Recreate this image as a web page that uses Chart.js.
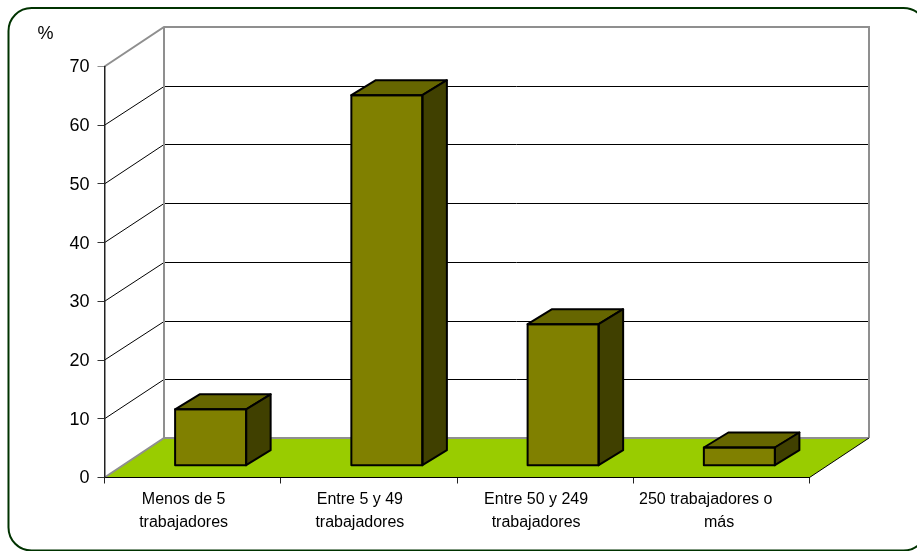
<!DOCTYPE html>
<html>
<head>
<meta charset="utf-8">
<style>html,body{margin:0;padding:0;background:#fff;overflow:hidden}canvas{display:block}</style>
<script src="https://cdn.jsdelivr.net/npm/chart.js@4"></script>
</head>
<body>
<canvas id="c" width="917" height="551" style="width:917px;height:551px"></canvas>
<script>
const categories = [
  ["Menos de 5", "trabajadores"],
  ["Entre 5 y 49", "trabajadores"],
  ["Entre 50 y 249", "trabajadores"],
  ["250 trabajadores o", "más"]
];
const values = [9.6, 63.1, 24.1, 3.1];
const unitLabel = "%";
const yMax = 70, yStep = 10;

const WALL_DX = 59.5, WALL_DY = 39.5;   // depth of the 3D box
const BAR_DX = 18, BAR_DY = 11.8;       // bar offset from the front plane
const BAR_DEPTH_DX = 24.5, BAR_DEPTH_DY = 15;
const FONT = '"Liberation Sans", Arial, sans-serif';

function line(ctx, pts, color, w) {
  ctx.beginPath();
  pts.forEach((p, i) => i ? ctx.lineTo(p[0], p[1]) : ctx.moveTo(p[0], p[1]));
  ctx.strokeStyle = color; ctx.lineWidth = w; ctx.stroke();
}
function poly(ctx, pts, fill) {
  ctx.beginPath();
  pts.forEach((p, i) => i ? ctx.lineTo(p[0], p[1]) : ctx.moveTo(p[0], p[1]));
  ctx.closePath();
  if (fill) { ctx.fillStyle = fill; ctx.fill(); }
  ctx.strokeStyle = '#000'; ctx.lineWidth = 2; ctx.lineJoin = 'round'; ctx.stroke();
}

const box3d = {
  id: 'box3d',
  beforeDraw(chart) {
    const { ctx, scales: { x, y } } = chart;
    const L = x.left, R = x.right;
    ctx.save();
    ctx.fillStyle = '#fff';
    ctx.fillRect(0, 0, chart.width, chart.height);

    // rounded frame
    ctx.beginPath();
    ctx.roundRect(8.5, 8, 918, 542.5, 23);
    ctx.strokeStyle = '#003300'; ctx.lineWidth = 2; ctx.stroke();

    // floor
    const y0 = y.getPixelForValue(0);
    ctx.beginPath();
    ctx.moveTo(L, y0); ctx.lineTo(L + WALL_DX, y0 - WALL_DY);
    ctx.lineTo(R + WALL_DX, y0 - WALL_DY); ctx.lineTo(R, y0); ctx.closePath();
    ctx.fillStyle = '#99cc00'; ctx.fill();

    // grid lines on side and back walls
    for (let v = yStep; v < yMax; v += yStep) {
      const py = Math.round(y.getPixelForValue(v) - WALL_DY) + 0.5;
      line(ctx, [[L, y.getPixelForValue(v)], [L + WALL_DX, py], [R + WALL_DX, py]], '#000', 1);
    }
    const yT = y.getPixelForValue(yMax);
    line(ctx, [[L, yT], [L + WALL_DX, yT - WALL_DY], [R + WALL_DX, yT - WALL_DY], [R + WALL_DX, y0 - WALL_DY]], '#8f8f8f', 2);
    line(ctx, [[L + WALL_DX, yT - WALL_DY], [L + WALL_DX, y0 - WALL_DY]], '#8f8f8f', 2);
    line(ctx, [[L, y0], [L + WALL_DX, y0 - WALL_DY], [R + WALL_DX, y0 - WALL_DY]], '#8f8f8f', 2);
    line(ctx, [[R, y0], [R + WALL_DX, y0 - WALL_DY]], '#000', 1);

    // unit label
    ctx.fillStyle = '#000';
    ctx.font = '18px ' + FONT;
    ctx.textAlign = 'center';
    ctx.textBaseline = 'middle';
    ctx.fillText(unitLabel, 45.5, 34);
    ctx.restore();
  },
  beforeDatasetsDraw(chart) {
    chart.ctx.save();
    chart.ctx.translate(BAR_DX, -BAR_DY);
  },
  afterDatasetsDraw(chart) {
    const ctx = chart.ctx;
    chart.getDatasetMeta(0).data.forEach(b => {
      const hw = b.width / 2, l = b.x - hw, r = b.x + hw, t = b.y, bot = b.base;
      const dx = BAR_DEPTH_DX, dy = BAR_DEPTH_DY;
      poly(ctx, [[l, t], [l + dx, t - dy], [r + dx, t - dy], [r, t]], '#666600');
      poly(ctx, [[r, t], [r + dx, t - dy], [r + dx, bot - dy], [r, bot]], '#404000');
      poly(ctx, [[l, t], [r, t], [r, bot], [l, bot]], null);
    });
    ctx.restore();
  }
};

// last label's two lines sit apart in the reference: nudge them with blank padding
const padded = (lines, i) => i === 3 ? [lines[0] + '   ', '   ' + lines[1]] : lines;

new Chart(document.getElementById('c'), {
  type: 'bar',
  data: {
    labels: categories,
    datasets: [{
      data: values,
      backgroundColor: '#808000',
      borderWidth: 0,
      barPercentage: 0.403,
      categoryPercentage: 1,
      clip: false
    }]
  },
  plugins: [box3d],
  options: {
    responsive: false,
    animation: false,
    events: [],
    layout: { padding: { top: 66.5, right: 107.5, left: 0, bottom: 0 } },
    plugins: { legend: { display: false }, tooltip: { enabled: false }, title: { display: false } },
    scales: {
      x: {
        afterFit(s) { s.height = 73.5; },
        border: { color: '#000', width: 1 },
        grid: { drawOnChartArea: false, drawTicks: true, tickLength: 6, color: '#222', offset: true },
        ticks: {
          color: '#000', maxRotation: 0, minRotation: 0, autoSkip: false, padding: 4.5,
          labelOffset: -9,
          callback(v, i) { return padded(categories[i], i); },
          font: { family: FONT, size: 16, lineHeight: 1.44 }
        }
      },
      y: {
        min: 0, max: yMax,
        afterFit(s) { s.width = 104.5; },
        border: { color: '#222', width: 1.5 },
        grid: {
          drawOnChartArea: false, tickLength: 7,
          color: c => (c.tick && c.tick.value === yMax) ? '#8f8f8f' : '#333'
        },
        ticks: {
          stepSize: yStep, color: '#000', padding: 8, labelOffset: 1,
          font: { family: FONT, size: 18 }
        }
      }
    }
  }
});
</script>
</body>
</html>
